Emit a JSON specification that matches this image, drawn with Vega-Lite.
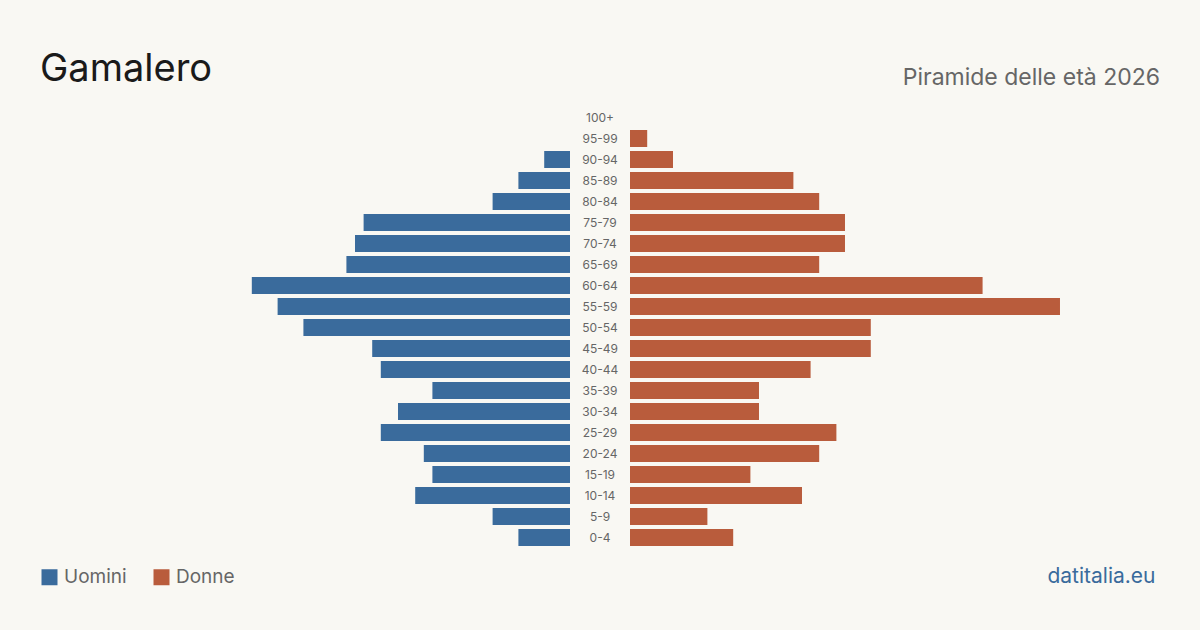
{
  "$schema": "https://vega.github.io/schema/vega-lite/v6.json",
  "background": "#f9f8f3",
  "padding": {"left": 40, "right": 40, "top": 50, "bottom": 42},
  "spacing": 0,
  "bounds": "flush",
  "config": {"view": {"stroke": null}, "font": "Inter"},
  "datasets": {
    "pop": [
      {"age": "100+", "sex": "Uomini", "value": 0},
      {"age": "95-99", "sex": "Uomini", "value": 0},
      {"age": "90-94", "sex": "Uomini", "value": 3},
      {"age": "85-89", "sex": "Uomini", "value": 6},
      {"age": "80-84", "sex": "Uomini", "value": 9},
      {"age": "75-79", "sex": "Uomini", "value": 24},
      {"age": "70-74", "sex": "Uomini", "value": 25},
      {"age": "65-69", "sex": "Uomini", "value": 26},
      {"age": "60-64", "sex": "Uomini", "value": 37},
      {"age": "55-59", "sex": "Uomini", "value": 34},
      {"age": "50-54", "sex": "Uomini", "value": 31},
      {"age": "45-49", "sex": "Uomini", "value": 23},
      {"age": "40-44", "sex": "Uomini", "value": 22},
      {"age": "35-39", "sex": "Uomini", "value": 16},
      {"age": "30-34", "sex": "Uomini", "value": 20},
      {"age": "25-29", "sex": "Uomini", "value": 22},
      {"age": "20-24", "sex": "Uomini", "value": 17},
      {"age": "15-19", "sex": "Uomini", "value": 16},
      {"age": "10-14", "sex": "Uomini", "value": 18},
      {"age": "5-9", "sex": "Uomini", "value": 9},
      {"age": "0-4", "sex": "Uomini", "value": 6},
      {"age": "100+", "sex": "Donne", "value": 0},
      {"age": "95-99", "sex": "Donne", "value": 2},
      {"age": "90-94", "sex": "Donne", "value": 5},
      {"age": "85-89", "sex": "Donne", "value": 19},
      {"age": "80-84", "sex": "Donne", "value": 22},
      {"age": "75-79", "sex": "Donne", "value": 25},
      {"age": "70-74", "sex": "Donne", "value": 25},
      {"age": "65-69", "sex": "Donne", "value": 22},
      {"age": "60-64", "sex": "Donne", "value": 41},
      {"age": "55-59", "sex": "Donne", "value": 50},
      {"age": "50-54", "sex": "Donne", "value": 28},
      {"age": "45-49", "sex": "Donne", "value": 28},
      {"age": "40-44", "sex": "Donne", "value": 21},
      {"age": "35-39", "sex": "Donne", "value": 15},
      {"age": "30-34", "sex": "Donne", "value": 15},
      {"age": "25-29", "sex": "Donne", "value": 24},
      {"age": "20-24", "sex": "Donne", "value": 22},
      {"age": "15-19", "sex": "Donne", "value": 14},
      {"age": "10-14", "sex": "Donne", "value": 20},
      {"age": "5-9", "sex": "Donne", "value": 9},
      {"age": "0-4", "sex": "Donne", "value": 12}
    ]
  },
  "data": {"name": "pop"},
  "hconcat": [
    {
      "width": 530,
      "height": 441,
      "title": {"text": "Gamalero", "anchor": "start", "fontSize": 38, "fontWeight": "normal", "color": "#1a1a1a", "offset": 18.5, "font": "Inter"},
      "transform": [{"filter": "datum.sex === 'Uomini'"}],
      "mark": {"type": "bar"},
      "encoding": {
        "y": {"field": "age", "type": "ordinal", "sort": ["100+","95-99","90-94","85-89","80-84","75-79","70-74","65-69","60-64","55-59","50-54","45-49","40-44","35-39","30-34","25-29","20-24","15-19","10-14","5-9","0-4"], "axis": null, "scale": {"paddingInner": 0.19, "paddingOuter": 0.095}},
        "x": {"field": "value", "type": "quantitative", "scale": {"domain": [0, 61.63], "reverse": true}, "axis": null},
        "color": {"field": "sex", "type": "nominal", "scale": {"domain": ["Uomini", "Donne"], "range": ["#3a6b9c", "#b95c3c"]},
          "legend": {"title": null, "orient": "none", "legendX": 0, "legendY": 460.5, "direction": "horizontal", "symbolType": "square", "symbolSize": 256, "symbolStrokeWidth": 0, "symbolOpacity": 1, "labelFontSize": 19, "labelColor": "#666666", "labelFont": "Inter", "labelOffset": 5, "columnPadding": 25}}
      }
    },
    {
      "width": 60,
      "height": 441,
      "transform": [{"filter": "datum.sex === 'Donne'"}],
      "mark": {"type": "text", "fontSize": 12, "color": "#666666", "font": "Inter"},
      "encoding": {
        "y": {"field": "age", "type": "ordinal", "sort": ["100+","95-99","90-94","85-89","80-84","75-79","70-74","65-69","60-64","55-59","50-54","45-49","40-44","35-39","30-34","25-29","20-24","15-19","10-14","5-9","0-4"], "axis": null, "scale": {"paddingInner": 0.19, "paddingOuter": 0.095}},
        "text": {"field": "age", "type": "nominal"}
      }
    },
    {
      "width": 530,
      "height": 441,
      "title": {"text": "Piramide delle età 2026", "anchor": "end", "fontSize": 23, "fontWeight": "normal", "color": "#666666", "offset": 17, "font": "Inter"},
      "transform": [{"filter": "datum.sex === 'Donne'"}],
      "mark": {"type": "bar"},
      "encoding": {
        "y": {"field": "age", "type": "ordinal", "sort": ["100+","95-99","90-94","85-89","80-84","75-79","70-74","65-69","60-64","55-59","50-54","45-49","40-44","35-39","30-34","25-29","20-24","15-19","10-14","5-9","0-4"], "axis": null, "scale": {"paddingInner": 0.19, "paddingOuter": 0.095}},
        "x": {"field": "value", "type": "quantitative", "scale": {"domain": [0, 61.63]},
          "axis": {"title": "datitalia.eu", "labels": false, "ticks": false, "domain": false, "grid": false, "titleX": 525, "titleAlign": "right", "titleFontSize": 21, "titleFontWeight": "normal", "titleColor": "#3a6b9c", "titleFont": "Inter", "titleBaseline": "alphabetic", "titlePadding": 34.5}},
        "color": {"field": "sex", "type": "nominal", "scale": {"domain": ["Uomini", "Donne"], "range": ["#3a6b9c", "#b95c3c"]}}
      }
    }
  ]
}
